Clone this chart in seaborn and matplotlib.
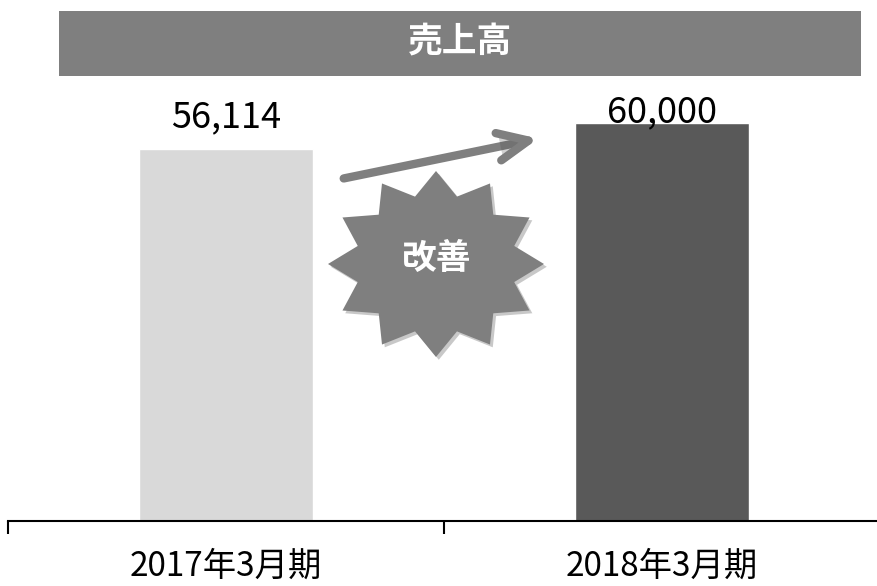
import numpy as np
import pandas as pd
import matplotlib
matplotlib.use("Agg")
import matplotlib.pyplot as plt
import matplotlib.patheffects as pe
from matplotlib.patches import Rectangle, Polygon, FancyArrowPatch
import seaborn as sns

# data
periods = ["2017年3月期", "2018年3月期"]
sales = [56114, 60000]
value_labels = ["56,114", "60,000"]
bar_colors = ["#d9d9d9", "#595959"]
title = "売上高"
badge = "改善"

W, H = 877, 586

sns.set_style("white")
plt.rcParams["font.family"] = ["Noto Sans CJK JP", "DejaVu Sans"]

fig = plt.figure(figsize=(W / 100, H / 100), dpi=100)

def px(x, y):
    # pixel coords (top-left origin) -> figure fraction
    return x / W, 1 - y / H

# axes: x boundary 8..880 px, baseline at 520.5 px, top at 11 px
ax_bottom = (H - 520.5) / H
ax_height = (520.5 - 11) / H
ax = fig.add_axes([8 / W, ax_bottom, 872 / W, ax_height])

df = pd.DataFrame({"period": periods, "sales": sales})
sns.barplot(data=df, x="period", y="sales", hue="period", palette=bar_colors,
            width=0.4, saturation=1, legend=False, ax=ax)

ax.set_xlim(-0.5, 1.5)
ax.set_ylim(0, 76900)
ax.set_xlabel("")
ax.set_ylabel("")
ax.set_yticks([])
for s in ["top", "left", "right"]:
    ax.spines[s].set_visible(False)
ax.spines["bottom"].set_linewidth(1.5)
ax.spines["bottom"].set_color("black")

ax.set_xticks(range(len(periods)))
ax.set_xticklabels(periods, fontsize=24, color="black")
ax.tick_params(axis="x", which="major", bottom=True, length=0, pad=20)
ax.set_xticks([-0.5, 0.5], minor=True)
ax.tick_params(axis="x", which="minor", bottom=True, length=9, width=1.5,
               color="black", direction="out")

# value labels (offsets in points, as laid out in the original)
label_offsets = [15.5, 0.8]
for i, (v, lab) in enumerate(zip(sales, value_labels)):
    ax.annotate(lab, (i, v), xytext=(0, label_offsets[i]), textcoords="offset points",
                ha="center", va="baseline", fontsize=26, color="black",
                family=["Noto Sans CJK JP", "DejaVu Sans"])

# title banner
x0, y0 = px(59, 76)
x1, y1 = px(861, 11)
fig.add_artist(Rectangle((x0, y0), x1 - x0, y1 - y0, transform=fig.transFigure,
                         facecolor="#7f7f7f", edgecolor="none", zorder=3))
tx, ty = px(460, 42)
fig.text(tx, ty, title, ha="center", va="center", fontsize=25, fontweight="bold",
         color="white", zorder=4)

# arrow
shadow = [pe.SimplePatchShadow(offset=(2, -2), alpha=0.25), pe.Normal()]
arrow = FancyArrowPatch(px(341, 179), px(541, 138), transform=fig.transFigure,
                        arrowstyle="->,head_length=2.2,head_width=1.0",
                        mutation_scale=10, lw=6, color="#7f7f7f",
                        capstyle="round", joinstyle="round", zorder=5)
arrow.set_path_effects(shadow)
fig.add_artist(arrow)

# 12 point star
cx, cy, rx, ry, inner = 436, 264, 108, 93, 0.75
n = 12
verts = []
for k in range(2 * n):
    ang = np.pi / 2 - k * np.pi / n
    r = 1.0 if k % 2 == 0 else inner
    verts.append(px(cx + rx * r * np.cos(ang), cy - ry * r * np.sin(ang)))
star = Polygon(verts, closed=True, transform=fig.transFigure,
               facecolor="#7f7f7f", edgecolor="none", zorder=5)
star.set_path_effects(shadow)
fig.add_artist(star)
bx, by = px(437, 258)
fig.text(bx, by, badge, ha="center", va="center", fontsize=25, fontweight="bold",
         color="white", zorder=6)

fig.savefig("out.png", dpi=100)
